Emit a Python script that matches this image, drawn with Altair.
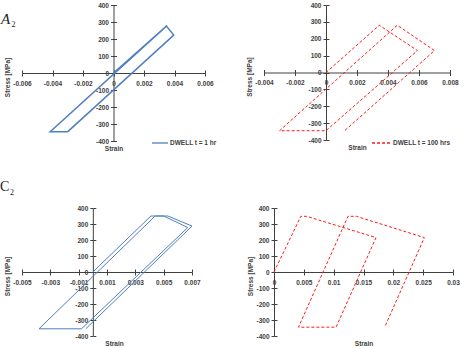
import altair as alt
import pandas as pd

# ---------------- data ----------------
# Panel A2, DWELL t = 1 hr
a1_strain = [0.0, 0.00347, 0.00395, -0.0030, -0.00415, 0.00347, 0.00395, -0.0030]
a1_stress = [0, 276, 223, -345, -345, 276, 223, -345]
# Panel A2, DWELL t = 100 hrs
a2_strain = [0.0, 0.00344, 0.0059, 0.0, -0.0030, 0.0046, 0.0070, 0.0012]
a2_stress = [0, 280, 130, -345, -345, 280, 130, -345]
# Panel C2, t = 1 hr
c1_strain = [0.0, 0.0041, 0.0050, 0.0067, -0.0008, -0.0038, 0.0044, 0.0053, 0.0070, -0.0005]
c1_stress = [0, 350, 350, 278, -355, -355, 350, 350, 287, -355]
# Panel C2, t = 100 hrs
c2_strain = [0.0, 0.0045, 0.0055, 0.0171, 0.0104, 0.0041, 0.0124, 0.0138, 0.0252, 0.0186]
c2_stress = [0, 348, 348, 215, -345, -345, 348, 348, 215, -340]

x_ticks_a1 = [-0.006, -0.004, -0.002, 0, 0.002, 0.004, 0.006]
x_ticks_a2 = [-0.004, -0.002, 0, 0.002, 0.004, 0.006, 0.008]
x_ticks_c1 = [-0.005, -0.003, -0.001, 0.001, 0.003, 0.005, 0.007]
x_ticks_c2 = [0, 0.005, 0.01, 0.015, 0.02, 0.025, 0.03]
y_ticks = [-400, -300, -200, -100, 0, 100, 200, 300, 400]

legend_a1 = "DWELL t = 1 hr"
legend_a2 = "DWELL t = 100 hrs"

BLUE = "#4F81BD"
RED = "#FF1A1A"
INK = "#404040"
FONT = "Liberation Sans"


def one_row():
    return pd.DataFrame({"k": [0]})


def panel(strain, stress, xdom, xticks, W, H, color, width, dash=None,
          xtitle_x=None, ytitle_dx=-15, ytitle_y=None):
    df = pd.DataFrame({"strain": strain, "stress": stress, "i": range(len(strain))})
    x0 = W * (0 - xdom[0]) / (xdom[1] - xdom[0])
    y0 = H / 2.0
    xs = alt.Scale(domain=xdom, nice=False, zero=False)
    ys = alt.Scale(domain=[-400, 400], nice=False, zero=False)
    lbl = "'' + datum.value"
    mk = dict(color=color, strokeWidth=width)
    if dash:
        mk["strokeDash"] = dash
    line = alt.Chart(df).mark_line(**mk).encode(
        x=alt.X("strain:Q", scale=xs, axis=alt.Axis(
            orient="bottom", offset=-y0, values=xticks, labelExpr=lbl,
            labelFlush=False, labelOverlap=False, tickSize=3, labelPadding=4,
            title="Strain", titleX=(W / 2.0 if xtitle_x is None else xtitle_x),
            titleY=y0 + 7, titleBaseline="middle", titleAlign="center")),
        y=alt.Y("stress:Q", scale=ys, axis=alt.Axis(
            orient="left", offset=-x0, values=y_ticks, labelExpr=lbl,
            labelOverlap=False, labelFlush=False, tickSize=3, labelPadding=2,
            title="Stress [MPa]", titleX=-x0 + ytitle_dx,
            titleY=(y0 + 4 if ytitle_y is None else ytitle_y),
            titleAngle=270, titleAlign="center", titleBaseline="middle")),
        order="i:Q",
    )
    ticks = alt.Chart(df).mark_line(opacity=0).encode(
        x=alt.X("strain:Q", scale=xs, axis=alt.Axis(
            orient="top", offset=-y0, values=xticks, labels=False, domain=False,
            tickSize=3, title=None)),
        y=alt.Y("stress:Q", scale=ys, axis=alt.Axis(
            orient="right", offset=-(W - x0), values=y_ticks, labels=False,
            domain=False, tickSize=3, title=None)),
        order="i:Q",
    )
    return line, ticks


def legend(label, color, dash, lx, ly):
    rk = dict(color=color, strokeWidth=1.3)
    if dash:
        rk["strokeDash"] = dash
    r = alt.Chart(one_row()).mark_rule(**rk).encode(
        x=alt.value(lx), x2=alt.value(lx + 16 if not dash else lx + 19), y=alt.value(ly))
    t = alt.Chart(one_row()).mark_text(
        align="left", baseline="middle", font=FONT, fontSize=6.5,
        fontWeight="bold", color=INK).encode(
        x=alt.value(lx + (18 if not dash else 21)), y=alt.value(ly), text=alt.value(label))
    return r, t


def tag(letter, italic, x, y, size):
    kw = dict(align="left", baseline="alphabetic", font="Liberation Serif",
              fontSize=size, color="#222222")
    if italic:
        kw["fontStyle"] = "italic"
    a = alt.Chart(one_row()).mark_text(**kw).encode(
        x=alt.value(x), y=alt.value(y), text=alt.value(letter))
    b = alt.Chart(one_row()).mark_text(
        align="left", baseline="alphabetic", font="Liberation Serif",
        fontSize=8, color="#222222").encode(
        x=alt.value(x + (10.5 if italic else 10)), y=alt.value(y + 3.5), text=alt.value("2"))
    return a, b


# Panel 1
W1, H1 = 183, 136
l1, t1 = panel(a1_strain, a1_stress, [-0.006, 0.006], x_ticks_a1, W1, H1, BLUE, 1.5)
lr1, lt1 = legend(legend_a1, BLUE, None, 130, 138)
ta, tb = tag("A", True, -21, 18.5, 15)
p1 = alt.layer(l1, t1, lr1, lt1, ta, tb).resolve_axis(x="independent", y="independent").properties(width=W1, height=H1)

# Panel 2
W2, H2 = 186, 135
l2, t2 = panel(a2_strain, a2_stress, [-0.004, 0.008], x_ticks_a2, W2, H2, RED, 1.0, dash=[3, 2])
lr2, lt2 = legend(legend_a2, RED, [3, 2], 108, 138)
p2 = alt.layer(l2, t2, lr2, lt2).resolve_axis(x="independent", y="independent").properties(width=W2, height=H2)

# Panel 3
W3, H3 = 170, 128
l3, t3 = panel(c1_strain, c1_stress, [-0.005, 0.007], x_ticks_c1, W3, H3, BLUE, 1.0, xtitle_x=92)
tc, td = tag("C", False, -22, -17, 14)
p3 = alt.layer(l3, t3, tc, td).resolve_axis(x="independent", y="independent").properties(width=W3, height=H3)

# Panel 4
W4, H4 = 179, 128
l4, t4 = panel(c2_strain, c2_stress, [0.0, 0.03], x_ticks_c2, W4, H4, RED, 1.0, dash=[3, 2], ytitle_dx=-24)
p4 = alt.layer(l4, t4).resolve_axis(x="independent", y="independent").properties(width=W4, height=H4)

row1 = alt.hconcat(p1, p2, spacing=59, bounds="flush")
row2 = alt.hconcat(p3, p4, spacing=82, bounds="flush")

chart = alt.vconcat(row1, row2, spacing=28).properties(
    padding={"left": 0, "top": 2, "right": 0, "bottom": 0},
    background="white",
).configure_view(strokeWidth=0).configure_axis(
    grid=False,
    labelFont=FONT, labelFontSize=6.5, labelFontWeight="bold", labelColor=INK,
    titleFont=FONT, titleFontSize=6.5, titleFontWeight="bold", titleColor=INK,
    domainColor=INK, tickColor=INK, domainWidth=1, tickWidth=1,
)

chart.save("out.html", embed_options={"renderer": "svg", "actions": False})
